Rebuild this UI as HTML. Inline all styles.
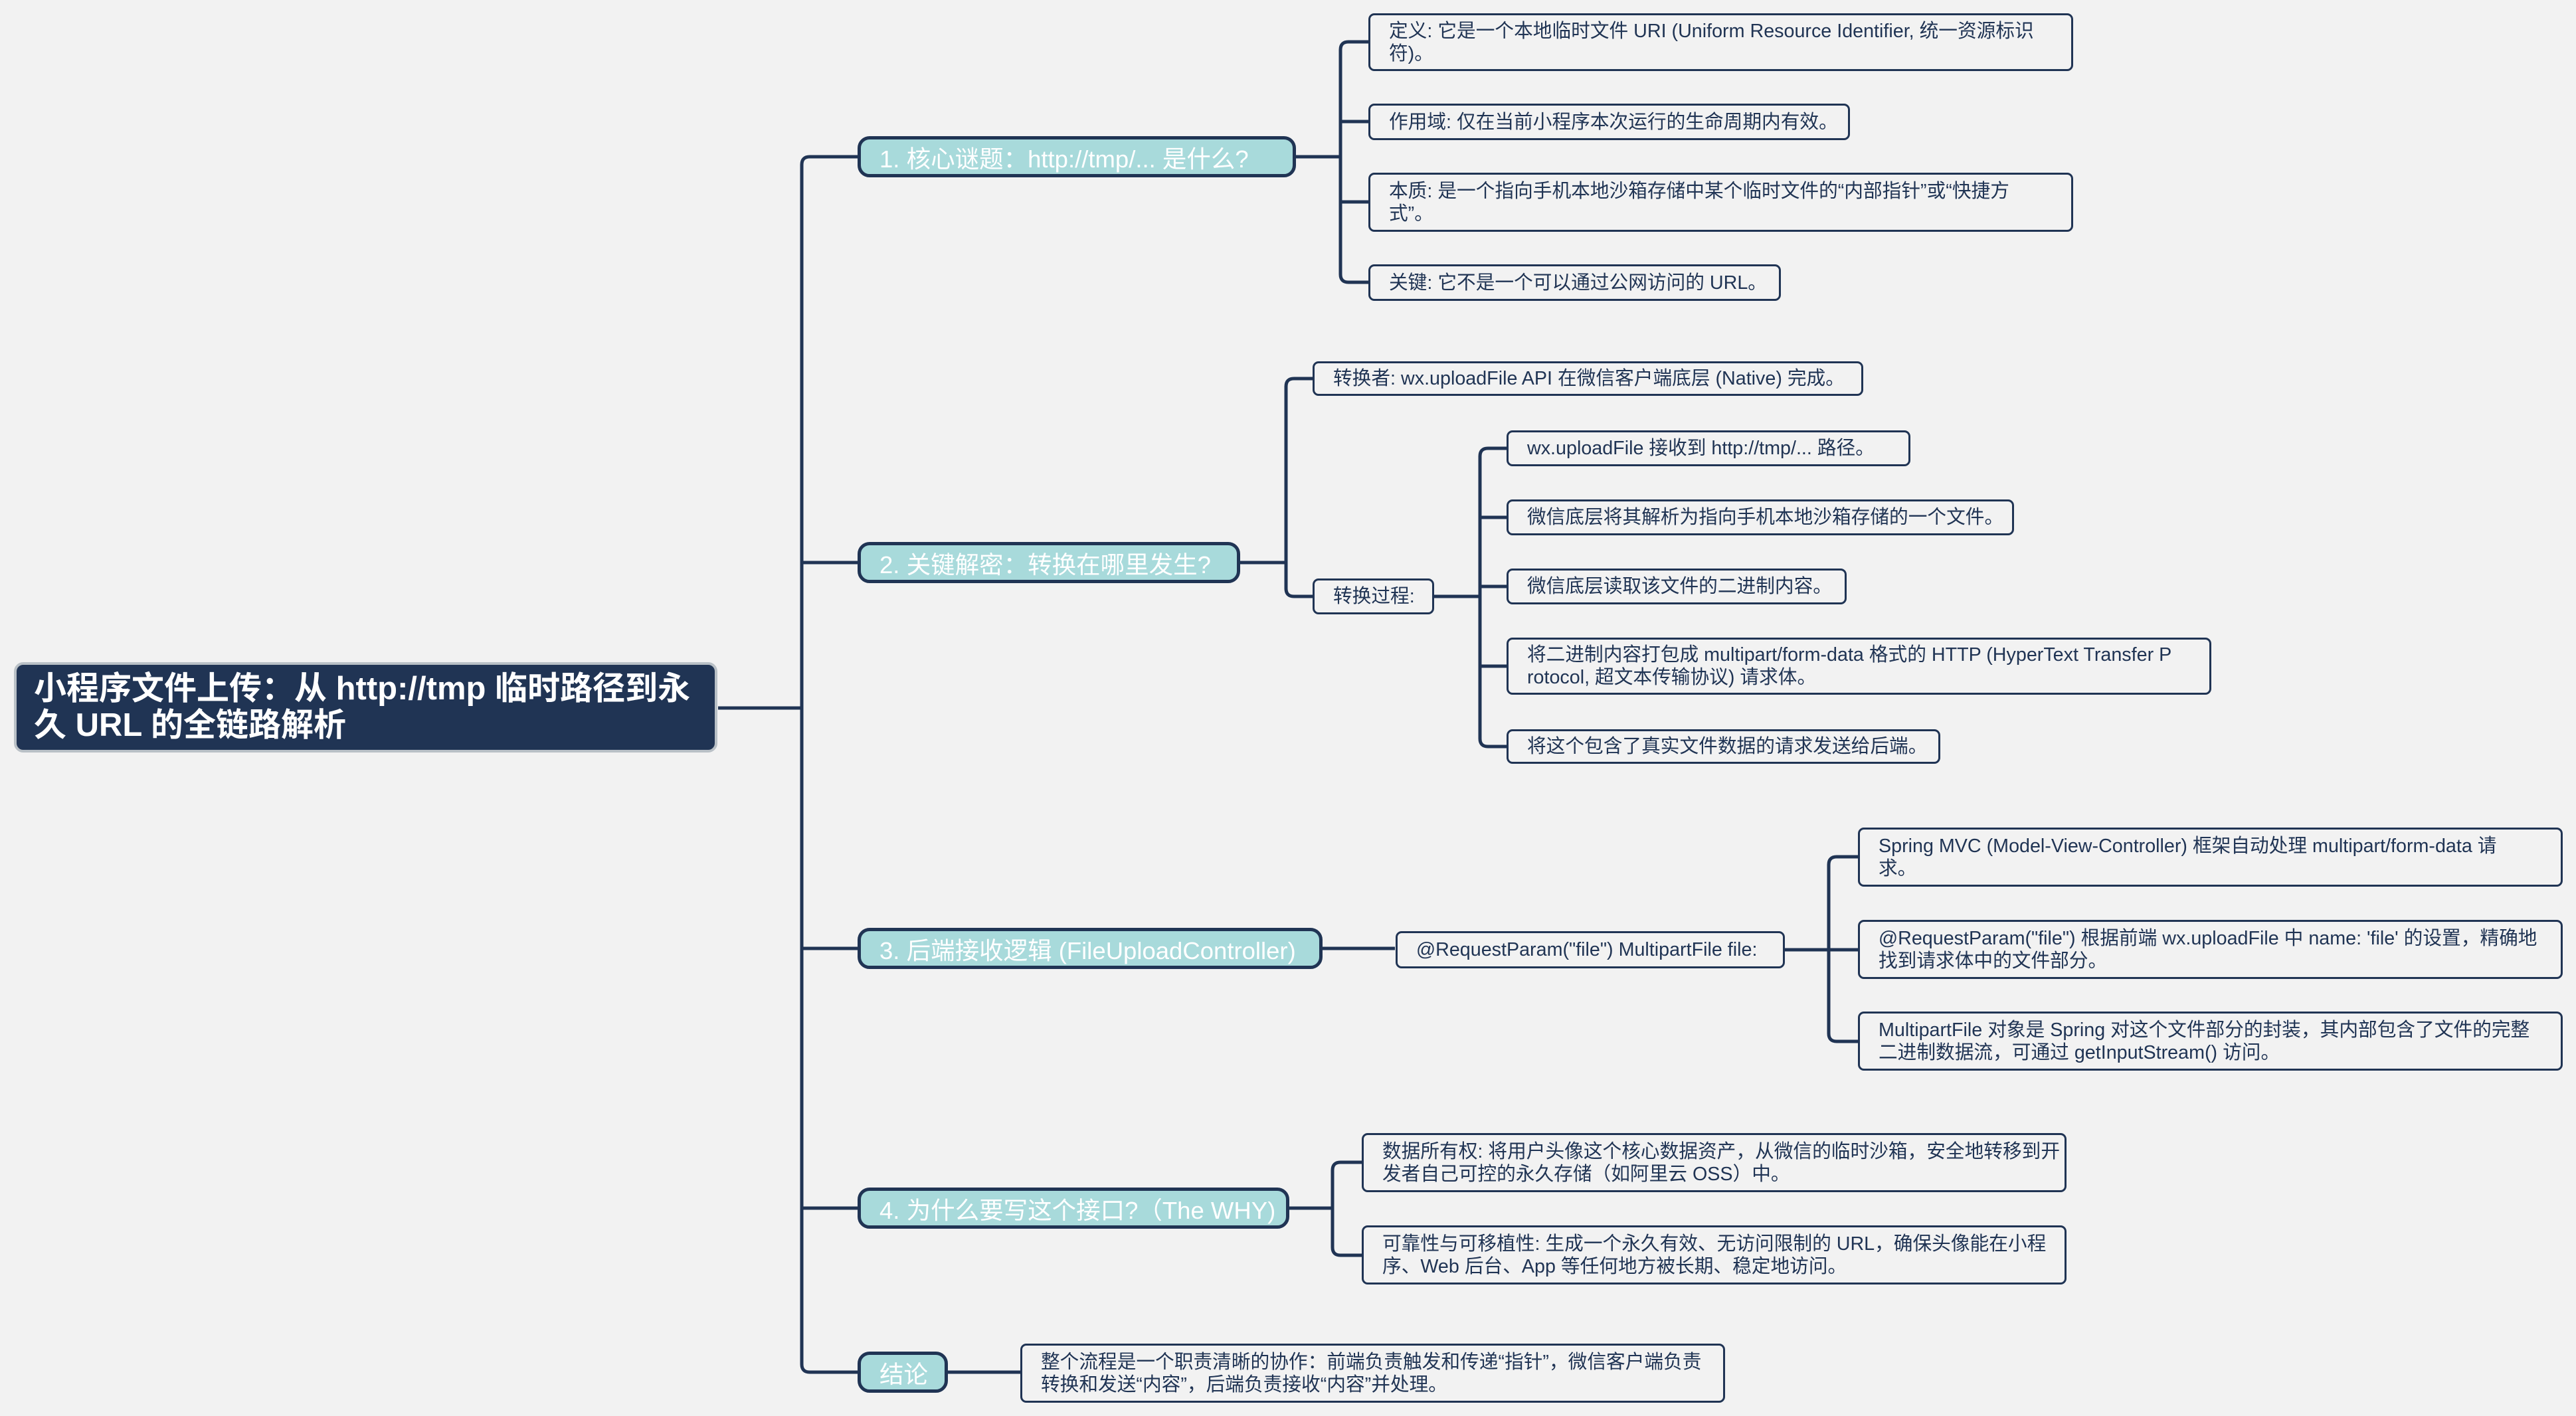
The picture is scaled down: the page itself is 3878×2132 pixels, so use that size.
<!DOCTYPE html>
<html><head><meta charset="utf-8"><style>
html,body{margin:0;padding:0}
body{width:3878px;height:2132px;background:#f2f2f2;position:relative;overflow:hidden;font-family:"Liberation Sans","Noto Sans CJK SC",sans-serif}
.n{position:absolute;box-sizing:border-box;display:flex;align-items:center}
.root{background:#203454;border:4px solid #b9c0c6;border-radius:14px;color:#fff;font-weight:bold;font-size:49px;line-height:55px;padding-left:26px;white-space:nowrap}
.l1{background:#a8dadb;border:5px solid #203454;border-radius:18px;color:#fff;font-size:36.5px;padding-left:28px;white-space:nowrap}
.lf{background:#f2f2f2;border:3px solid #203454;border-radius:9px;color:#203454;font-size:28.7px;line-height:34px;padding-left:28px;padding-right:10px;white-space:nowrap}
svg{position:absolute;left:0;top:0}
</style></head><body>
<svg width="3878" height="2132" fill="none" stroke="#203454" stroke-width="5">
<path d="M1081,1066 H1207"/>
<path d="M1291,236 H1219 Q1207,236 1207,248 V2054 Q1207,2066 1219,2066 H1291"/>
<path d="M1207,847 H1291 M1207,1428 H1291 M1207,1819 H1291"/>
<path d="M1951,236 H2018"/>
<path d="M2060,63 H2030 Q2018,63 2018,75 V413 Q2018,425 2030,425 H2060"/>
<path d="M2018,183 H2060 M2018,304 H2060"/>
<path d="M1867,847 H1936"/>
<path d="M1976,570 H1948 Q1936,570 1936,582 V886 Q1936,898 1948,898 H1976"/>
<path d="M2159,898 H2228"/>
<path d="M2268,675 H2240 Q2228,675 2228,687 V1112 Q2228,1124 2240,1124 H2268"/>
<path d="M2228,779 H2268 M2228,883 H2268 M2228,1003 H2268"/>
<path d="M1991,1428 H2100"/>
<path d="M2686,1430 H2753"/>
<path d="M2797,1290 H2765 Q2753,1290 2753,1302 V1556 Q2753,1568 2765,1568 H2797"/>
<path d="M2753,1430 H2797"/>
<path d="M1941,1819 H2006"/>
<path d="M2050,1750 H2018 Q2006,1750 2006,1762 V1878 Q2006,1890 2018,1890 H2050"/>
<path d="M1427,2066 H1536"/>
</svg>

<div class="n root" style="left:21px;top:997px;width:1059px;height:136px">小程序文件上传：从 http://tmp 临时路径到永<br>久 URL 的全链路解析</div>

<div class="n l1" style="left:1291px;top:205px;width:660px;height:62px">1. 核心谜题：http://tmp/... 是什么?</div>
<div class="n l1" style="left:1291px;top:816px;width:576px;height:62px">2. 关键解密：转换在哪里发生?</div>
<div class="n l1" style="left:1291px;top:1397px;width:700px;height:62px">3. 后端接收逻辑 (FileUploadController)</div>
<div class="n l1" style="left:1291px;top:1788px;width:650px;height:62px">4. 为什么要写这个接口?（The WHY)</div>
<div class="n l1" style="left:1291px;top:2035px;width:136px;height:62px">结论</div>

<div class="n lf" style="left:2060px;top:20px;width:1061px;height:87px">定义: 它是一个本地临时文件 URI (Uniform Resource Identifier, 统一资源标识<br>符)。</div>
<div class="n lf" style="left:2060px;top:156px;width:725px;height:55px">作用域: 仅在当前小程序本次运行的生命周期内有效。</div>
<div class="n lf" style="left:2060px;top:260px;width:1061px;height:89px">本质: 是一个指向手机本地沙箱存储中某个临时文件的“内部指针”或“快捷方<br>式”。</div>
<div class="n lf" style="left:2060px;top:398px;width:621px;height:55px">关键: 它不是一个可以通过公网访问的 URL。</div>

<div class="n lf" style="left:1976px;top:544px;width:829px;height:52px">转换者: wx.uploadFile API 在微信客户端底层 (Native) 完成。</div>
<div class="n lf" style="left:1976px;top:871px;width:183px;height:54px">转换过程:</div>
<div class="n lf" style="left:2268px;top:648px;width:608px;height:54px">wx.uploadFile 接收到 http://tmp/... 路径。</div>
<div class="n lf" style="left:2268px;top:752px;width:764px;height:54px">微信底层将其解析为指向手机本地沙箱存储的一个文件。</div>
<div class="n lf" style="left:2268px;top:856px;width:512px;height:54px">微信底层读取该文件的二进制内容。</div>
<div class="n lf" style="left:2268px;top:960px;width:1061px;height:86px">将二进制内容打包成 multipart/form-data 格式的 HTTP (HyperText Transfer P<br>rotocol, 超文本传输协议) 请求体。</div>
<div class="n lf" style="left:2268px;top:1098px;width:653px;height:52px">将这个包含了真实文件数据的请求发送给后端。</div>

<div class="n lf" style="left:2101px;top:1402px;width:586px;height:56px">@RequestParam("file") MultipartFile file:</div>
<div class="n lf" style="left:2797px;top:1246px;width:1061px;height:89px">Spring MVC (Model-View-Controller) 框架自动处理 multipart/form-data 请<br>求。</div>
<div class="n lf" style="left:2797px;top:1385px;width:1061px;height:89px">@RequestParam("file") 根据前端 wx.uploadFile 中 name: 'file' 的设置，精确地<br>找到请求体中的文件部分。</div>
<div class="n lf" style="left:2797px;top:1523px;width:1061px;height:89px">MultipartFile 对象是 Spring 对这个文件部分的封装，其内部包含了文件的完整<br>二进制数据流，可通过 getInputStream() 访问。</div>

<div class="n lf" style="left:2050px;top:1706px;width:1061px;height:89px">数据所有权: 将用户头像这个核心数据资产，从微信的临时沙箱，安全地转移到开<br>发者自己可控的永久存储（如阿里云 OSS）中。</div>
<div class="n lf" style="left:2050px;top:1845px;width:1061px;height:89px">可靠性与可移植性: 生成一个永久有效、无访问限制的 URL，确保头像能在小程<br>序、Web 后台、App 等任何地方被长期、稳定地访问。</div>

<div class="n lf" style="left:1536px;top:2023px;width:1061px;height:89px">整个流程是一个职责清晰的协作：前端负责触发和传递“指针”，微信客户端负责<br>转换和发送“内容”，后端负责接收“内容”并处理。</div>
</body></html>
